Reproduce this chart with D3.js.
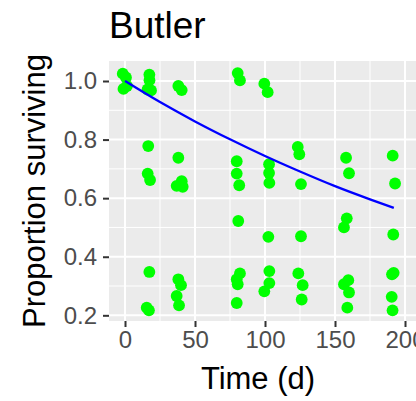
<!DOCTYPE html>
<html>
<head>
<meta charset="utf-8">
<script src="https://cdn.jsdelivr.net/npm/d3@7/dist/d3.min.js"></script>
<style>
  html, body { margin: 0; padding: 0; background: #fff; }
  svg { display: block; font-family: "Liberation Sans", Arial, Helvetica, sans-serif; }
</style>
</head>
<body>
<svg id="chart" width="416" height="401"></svg>
<script>
// Survival observations: time (days) and proportion surviving
const obsTime = [
  -1.6, 0.7, -1.1, 1.4,
  17.4, 17.5, 16.1, 18.6, 16.6, 16.2, 17.9, 17.4, 15.5, 17.1,
  38.1, 40.5, 38.1, 40.5, 36.9, 41.2, 38.1, 40.0, 36.9, 38.6,
  80.5, 82.1, 79.8, 79.8, 81.6, 80.9, 82.1, 79.8, 80.5, 79.8,
  99.5, 101.9, 102.9, 102.9, 103.1, 102.4, 103.1, 103.1, 99.5,
  123.4, 124.5, 125.7, 125.7, 123.8, 126.9, 126.2,
  157.9, 160.0, 158.4, 156.4, 159.5, 156.4, 160.0, 158.8,
  191.2, 192.9, 191.6, 191.9, 190.7, 190.5, 191.1
];
const obsSurv = [
  1.025, 1.012, 0.973, 0.983,
  1.022, 1.003, 0.971, 0.968, 0.778, 0.684, 0.662, 0.348, 0.226, 0.217,
  0.983, 0.969, 0.738, 0.658, 0.642, 0.639, 0.323, 0.303, 0.266, 0.234,
  1.027, 1.002, 0.726, 0.684, 0.644, 0.522, 0.343, 0.323, 0.306, 0.242,
  0.991, 0.962, 0.716, 0.686, 0.652, 0.468, 0.351, 0.310, 0.282,
  0.775, 0.750, 0.648, 0.470, 0.343, 0.303, 0.254,
  0.738, 0.685, 0.531, 0.500, 0.320, 0.306, 0.278, 0.226,
  0.745, 0.650, 0.476, 0.345, 0.340, 0.263, 0.217
];

// Fitted survival curve
const fitTime = [0, 25, 50, 75, 100, 125, 150, 175, 192];
const fitSurv = [1.0, 0.928, 0.862, 0.801, 0.744, 0.691, 0.641, 0.596, 0.567];

// Axis ticks
const xTicks = [0, 50, 100, 150, 200];
const xMinor = [25, 75, 125, 175];
const yTicks = [0.2, 0.4, 0.6, 0.8, 1.0];
const yMinor = [0.3, 0.5, 0.7, 0.9];

const titleText = "Butler";
const xTitle = "Time (d)";
const yTitle = "Proportion surviving";

const panel = { left: 109, right: 436, top: 61, bottom: 321 };

const svg = d3.select("#chart");

const x = d3.scaleLinear().domain([-11.43, 222.14]).range([panel.left, panel.right]);
const y = d3.scaleLinear().domain([0.1806, 1.0683]).range([panel.bottom, panel.top]);

// Panel background
svg.append("rect")
  .attr("x", panel.left).attr("y", panel.top)
  .attr("width", panel.right - panel.left).attr("height", panel.bottom - panel.top)
  .attr("fill", "#EBEBEB");

const grid = svg.append("g");
// minor grid
grid.selectAll(".xm").data(xMinor).join("line")
  .attr("x1", d => x(d)).attr("x2", d => x(d))
  .attr("y1", panel.top).attr("y2", panel.bottom)
  .attr("stroke", "#fff").attr("stroke-width", 1);
grid.selectAll(".ym").data(yMinor).join("line")
  .attr("y1", d => y(d)).attr("y2", d => y(d))
  .attr("x1", panel.left).attr("x2", panel.right)
  .attr("stroke", "#fff").attr("stroke-width", 1);
// major grid
grid.selectAll(".xM").data(xTicks).join("line")
  .attr("x1", d => x(d)).attr("x2", d => x(d))
  .attr("y1", panel.top).attr("y2", panel.bottom)
  .attr("stroke", "#fff").attr("stroke-width", 2);
grid.selectAll(".yM").data(yTicks).join("line")
  .attr("y1", d => y(d)).attr("y2", d => y(d))
  .attr("x1", panel.left).attr("x2", panel.right)
  .attr("stroke", "#fff").attr("stroke-width", 2);

// Axes
const xAxis = d3.axisBottom(x).tickValues(xTicks).tickFormat(d3.format("d"))
  .tickSizeOuter(0).tickSizeInner(6).tickPadding(4);
const yAxis = d3.axisLeft(y).tickValues(yTicks).tickFormat(d3.format(".1f"))
  .tickSizeOuter(0).tickSizeInner(6).tickPadding(6);

const gx = svg.append("g").attr("transform", `translate(0,${panel.bottom})`).call(xAxis);
const gy = svg.append("g").attr("transform", `translate(${panel.left},0)`).call(yAxis);
[gx, gy].forEach(g => {
  g.select(".domain").remove();
  g.selectAll(".tick line").attr("stroke", "#333333").attr("stroke-width", 2);
  g.selectAll(".tick text").attr("fill", "#4D4D4D")
    .style("font-size", "24px")
    .style("font-family", "'Liberation Sans', Arial, Helvetica, sans-serif");
});

// Points
svg.append("g").selectAll("circle")
  .data(obsTime.map((t, i) => ({ t, s: obsSurv[i] })))
  .join("circle")
  .attr("cx", d => x(d.t)).attr("cy", d => y(d.s))
  .attr("r", 5.9).attr("fill", "#00FF00");

// Fitted curve
const line = d3.line().x(d => x(d.t)).y(d => y(d.s)).curve(d3.curveMonotoneX);
svg.append("path")
  .datum(fitTime.map((t, i) => ({ t, s: fitSurv[i] })))
  .attr("d", line)
  .attr("fill", "none").attr("stroke", "#0000FF").attr("stroke-width", 2.3);

// Titles
svg.append("text").attr("x", 109).attr("y", 38)
  .attr("font-size", 37).attr("fill", "#000").text(titleText);
svg.append("text").attr("x", 258).attr("y", 389)
  .attr("text-anchor", "middle").attr("font-size", 31).attr("fill", "#000").text(xTitle);
svg.append("text")
  .attr("transform", `translate(45,191) rotate(-90)`)
  .attr("text-anchor", "middle").attr("font-size", 31).attr("fill", "#000").text(yTitle);
</script>
</body>
</html>
